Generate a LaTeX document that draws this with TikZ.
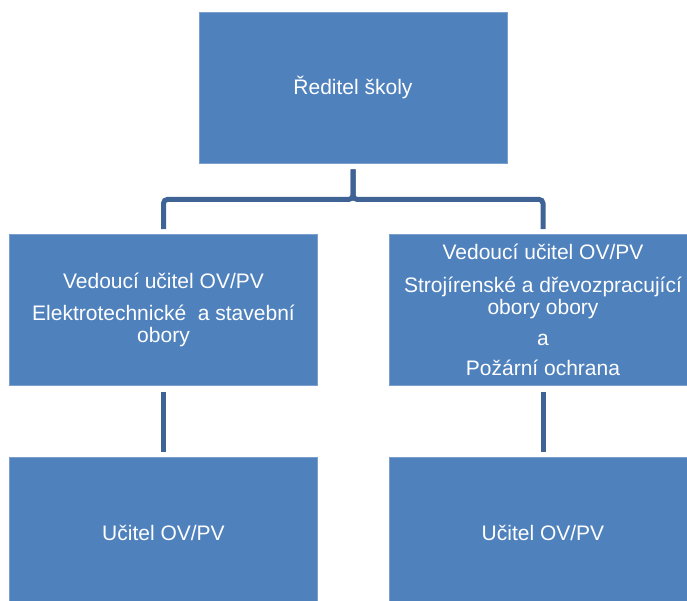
\documentclass[tikz,border=0pt]{standalone}
\usepackage{fontspec}
\setmainfont{Liberation Sans}
\usetikzlibrary{positioning}
\definecolor{boxblue}{RGB}{79,129,189}
\definecolor{linkblue}{RGB}{62,99,148}
\tikzset{
    unit/.style={
        rectangle,
        fill=boxblue,
        draw=boxblue!75!white,
        line width=0.8pt,
        text=white,
        minimum width=308pt,
        minimum height=151pt,
        inner sep=0pt,
        align=center,
        font=\fontsize{21}{22}\selectfont,
    },
    link/.style={
        draw=linkblue,
        line width=5pt,
        rounded corners=4pt,
        shorten <=6pt,
        shorten >=5pt,
    },
    node distance=71pt,
}
\begin{document}
\begin{tikzpicture}[x=1pt,y=-1pt]
                \useasboundingbox (0,0) rectangle (687,601);
                \clip (0,0) rectangle (687,601);

                \node [unit] (R) at (353,87.5) {Ředitel školy};
                \node [unit] (V1) at (163.5,310) {Vedoucí učitel OV/PV\\[10pt]Elektrotechnické~ a stavební\\obory};
                \node [unit] (V2) at (543,310) {Vedoucí učitel OV/PV\\[11pt]Strojírenské a dřevozpracující\\obory obory\\[9pt]a\\[8pt]Požární ochrana};
                \node [unit, below=of V1] (U1) {Učitel OV/PV};
                \node [unit, below=of V2] (U2) {Učitel OV/PV};

                \draw [link] (R.south) -- ++(0,36) -| (V1.north);
                \draw [link] (R.south) -- ++(0,36) -| (V2.north);
                \draw [link] (V1.south) -- (U1.north);
                \draw [link] (V2.south) -- (U2.north);
            \end{tikzpicture}
\end{document}
